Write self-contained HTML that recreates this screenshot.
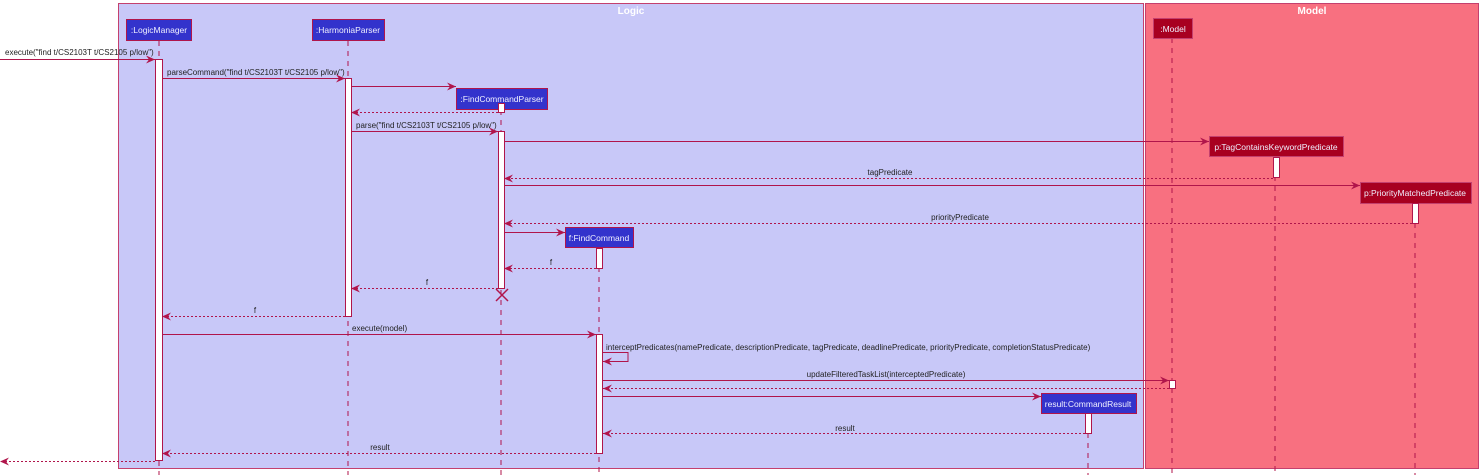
<!DOCTYPE html>
<html><head><meta charset="utf-8"><style>
html,body{margin:0;padding:0;background:#fff;}
svg{display:block;font-family:"Liberation Sans",sans-serif;}
</style></head><body>
<svg width="1482" height="475" viewBox="0 0 1482 475" xmlns="http://www.w3.org/2000/svg">
<defs>
<marker id="a" markerWidth="10" markerHeight="8" refX="9" refY="4" orient="auto" markerUnits="userSpaceOnUse">
<path d="M0,0 L9,4 L0,8 L3,4 Z" fill="#B0154B"/></marker>
</defs>
<rect x="118.5" y="3.5" width="1025" height="465" fill="#C8C8F8" stroke="#C4406E" stroke-width="1"/>
<rect x="1145.5" y="3.5" width="333" height="465" fill="#F87080" stroke="#C4406E" stroke-width="1"/>
<text x="631" y="14" font-size="10" font-weight="bold" fill="#fff" text-anchor="middle">Logic</text>
<text x="1312" y="14" font-size="10" font-weight="bold" fill="#fff" text-anchor="middle">Model</text>
<g stroke="#B0154B" stroke-width="1" stroke-dasharray="5,5" fill="none">
<line x1="159" y1="41" x2="159" y2="475"/>
<line x1="348" y1="41" x2="348" y2="475"/>
<line x1="501" y1="110" x2="501" y2="475"/>
<line x1="599" y1="247" x2="599" y2="475"/>
<line x1="1088" y1="413" x2="1088" y2="475"/>
<line x1="1172" y1="38" x2="1172" y2="475"/>
<line x1="1275" y1="156" x2="1275" y2="475"/>
<line x1="1415" y1="203" x2="1415" y2="475"/>
</g>
<g font-size="8.5" fill="#f0f0ff" text-anchor="middle">
<rect x="126.5" y="19.5" width="65" height="21" fill="#3333CC" stroke="#B0154B"/><text x="159" y="33">:LogicManager</text>
<rect x="312.5" y="19.5" width="72" height="21" fill="#3333CC" stroke="#B0154B"/><text x="348" y="33">:HarmoniaParser</text>
<rect x="456.5" y="88.5" width="91" height="21" fill="#3333CC" stroke="#B0154B"/><text x="502" y="102">:FindCommandParser</text>
<rect x="565.5" y="227.5" width="68" height="20" fill="#3333CC" stroke="#B0154B"/><text x="599" y="241">f:FindCommand</text>
<rect x="1041.5" y="393.5" width="95" height="20" fill="#3333CC" stroke="#B0154B"/><text x="1088" y="407">result:CommandResult</text>
<rect x="1153.5" y="18.5" width="39" height="20" fill="#A80020" stroke="#C4406E"/><text x="1173" y="32">:Model</text>
<rect x="1209.5" y="136.5" width="134" height="20" fill="#A80020" stroke="#C4406E"/><text x="1276" y="150">p:TagContainsKeywordPredicate</text>
<rect x="1360.5" y="182.5" width="111" height="21" fill="#A80020" stroke="#C4406E"/><text x="1415" y="196">p:PriorityMatchedPredicate</text>
</g>
<g fill="#fff" stroke="#B0154B">
<rect x="155.5" y="59.5" width="7" height="401"/>
<rect x="345.5" y="78.5" width="6" height="238"/>
<rect x="498.5" y="103.5" width="6" height="9"/>
<rect x="498.5" y="131.5" width="6" height="157"/>
<rect x="596.5" y="248.5" width="6" height="20"/>
<rect x="596.5" y="334.5" width="6" height="119"/>
<rect x="1085.5" y="413.5" width="6" height="20"/>
<rect x="1169.5" y="380.5" width="6" height="8"/>
<rect x="1273.5" y="157.5" width="6" height="20"/>
<rect x="1412.5" y="203.5" width="6" height="20"/>
</g>
<g stroke="#B0154B" stroke-width="1" fill="none" marker-end="url(#a)">
<line x1="0" y1="59.5" x2="155" y2="59.5"/>
<line x1="162" y1="78.5" x2="345" y2="78.5"/>
<line x1="351" y1="86.5" x2="456" y2="86.5"/>
<line x1="351" y1="131.5" x2="498" y2="131.5"/>
<line x1="504" y1="141.5" x2="1209" y2="141.5"/>
<line x1="504" y1="185.5" x2="1360" y2="185.5"/>
<line x1="504" y1="232.5" x2="565" y2="232.5"/>
<line x1="162" y1="334.5" x2="596" y2="334.5"/>
<polyline points="602,352.5 628,352.5 628,361.5 603,361.5"/>
<line x1="602" y1="380.5" x2="1169" y2="380.5"/>
<line x1="602" y1="396.5" x2="1041" y2="396.5"/>
</g>
<g stroke="#B0154B" stroke-width="1" fill="none" stroke-dasharray="2,2" marker-end="url(#a)">
<line x1="498" y1="112.5" x2="351" y2="112.5"/>
<line x1="1273" y1="178.5" x2="504" y2="178.5"/>
<line x1="1412" y1="223.5" x2="504" y2="223.5"/>
<line x1="596" y1="268.5" x2="504" y2="268.5"/>
<line x1="498" y1="288.5" x2="351" y2="288.5"/>
<line x1="345" y1="316.5" x2="162" y2="316.5"/>
<line x1="1169" y1="388.5" x2="603" y2="388.5"/>
<line x1="1085" y1="433.5" x2="603" y2="433.5"/>
<line x1="596" y1="453.5" x2="162" y2="453.5"/>
<line x1="155" y1="461.5" x2="0" y2="461.5"/>
</g>
<g stroke="#B0154B" stroke-width="1.5">
<line x1="496" y1="289" x2="508" y2="301"/><line x1="508" y1="289" x2="496" y2="301"/>
</g>
<g font-size="8" fill="#222">
<text x="5" y="55">execute("find t/CS2103T t/CS2105 p/low")</text>
<text x="167" y="75">parseCommand("find t/CS2103T t/CS2105 p/low")</text>
<text x="356" y="128">parse("find t/CS2103T t/CS2105 p/low")</text>
<text x="890" y="175" text-anchor="middle">tagPredicate</text>
<text x="960" y="220" text-anchor="middle">priorityPredicate</text>
<text x="551" y="265" text-anchor="middle">f</text>
<text x="427" y="285" text-anchor="middle">f</text>
<text x="255" y="313" text-anchor="middle">f</text>
<text x="352" y="331">execute(model)</text>
<text x="606" y="350">interceptPredicates(namePredicate, descriptionPredicate, tagPredicate, deadlinePredicate, priorityPredicate, completionStatusPredicate)</text>
<text x="886" y="377" text-anchor="middle">updateFilteredTaskList(interceptedPredicate)</text>
<text x="845" y="431" text-anchor="middle">result</text>
<text x="380" y="450" text-anchor="middle">result</text>
</g>
</svg>
</body></html>
